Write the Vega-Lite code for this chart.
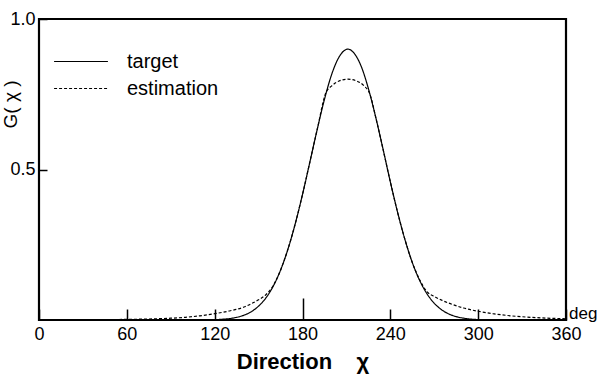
{
  "$schema": "https://vega.github.io/schema/vega-lite/v6.json",
  "width": 527,
  "height": 301,
  "autosize": {"type": "none"},
  "padding": {"left": 39, "top": 19, "right": 33, "bottom": 57},
  "background": "white",
  "config": {
    "view": {"stroke": "black", "strokeWidth": 2.2},
    "font": "Liberation Sans"
  },
  "datasets": {
    "curves": [
      {"direction": 0, "G": 0, "series": "target"},
      {"direction": 30, "G": 0, "series": "target"},
      {"direction": 60, "G": 0, "series": "target"},
      {"direction": 90, "G": 0, "series": "target"},
      {"direction": 100, "G": 0.0001, "series": "target"},
      {"direction": 110, "G": 0.0003, "series": "target"},
      {"direction": 120, "G": 0.0012, "series": "target"},
      {"direction": 125, "G": 0.0024, "series": "target"},
      {"direction": 130, "G": 0.0047, "series": "target"},
      {"direction": 135, "G": 0.0089, "series": "target"},
      {"direction": 140, "G": 0.016, "series": "target"},
      {"direction": 145, "G": 0.0276, "series": "target"},
      {"direction": 150, "G": 0.0459, "series": "target"},
      {"direction": 155, "G": 0.0732, "series": "target"},
      {"direction": 160, "G": 0.1123, "series": "target"},
      {"direction": 165, "G": 0.1656, "series": "target"},
      {"direction": 170, "G": 0.2345, "series": "target"},
      {"direction": 175, "G": 0.319, "series": "target"},
      {"direction": 180, "G": 0.417, "series": "target"},
      {"direction": 185, "G": 0.524, "series": "target"},
      {"direction": 190, "G": 0.632, "series": "target"},
      {"direction": 195, "G": 0.733, "series": "target"},
      {"direction": 200, "G": 0.817, "series": "target"},
      {"direction": 205, "G": 0.874, "series": "target"},
      {"direction": 208, "G": 0.893, "series": "target"},
      {"direction": 211, "G": 0.9, "series": "target"},
      {"direction": 214, "G": 0.893, "series": "target"},
      {"direction": 217, "G": 0.874, "series": "target"},
      {"direction": 220, "G": 0.844, "series": "target"},
      {"direction": 225, "G": 0.769, "series": "target"},
      {"direction": 230, "G": 0.674, "series": "target"},
      {"direction": 235, "G": 0.568, "series": "target"},
      {"direction": 240, "G": 0.459, "series": "target"},
      {"direction": 245, "G": 0.357, "series": "target"},
      {"direction": 250, "G": 0.267, "series": "target"},
      {"direction": 255, "G": 0.191, "series": "target"},
      {"direction": 260, "G": 0.1318, "series": "target"},
      {"direction": 265, "G": 0.0873, "series": "target"},
      {"direction": 270, "G": 0.0556, "series": "target"},
      {"direction": 275, "G": 0.034, "series": "target"},
      {"direction": 280, "G": 0.02, "series": "target"},
      {"direction": 285, "G": 0.0113, "series": "target"},
      {"direction": 290, "G": 0.0061, "series": "target"},
      {"direction": 295, "G": 0.0031, "series": "target"},
      {"direction": 300, "G": 0.0015, "series": "target"},
      {"direction": 310, "G": 0.0004, "series": "target"},
      {"direction": 320, "G": 0.0001, "series": "target"},
      {"direction": 330, "G": 0, "series": "target"},
      {"direction": 360, "G": 0, "series": "target"},
      {"direction": 0, "G": 0.0005, "series": "estimation"},
      {"direction": 30, "G": 0.001, "series": "estimation"},
      {"direction": 60, "G": 0.002, "series": "estimation"},
      {"direction": 80, "G": 0.004, "series": "estimation"},
      {"direction": 90, "G": 0.006, "series": "estimation"},
      {"direction": 100, "G": 0.009, "series": "estimation"},
      {"direction": 110, "G": 0.014, "series": "estimation"},
      {"direction": 120, "G": 0.021, "series": "estimation"},
      {"direction": 130, "G": 0.03, "series": "estimation"},
      {"direction": 140, "G": 0.043, "series": "estimation"},
      {"direction": 145, "G": 0.054, "series": "estimation"},
      {"direction": 150, "G": 0.067, "series": "estimation"},
      {"direction": 155, "G": 0.084, "series": "estimation"},
      {"direction": 160, "G": 0.114, "series": "estimation"},
      {"direction": 165, "G": 0.1656, "series": "estimation"},
      {"direction": 170, "G": 0.2345, "series": "estimation"},
      {"direction": 175, "G": 0.319, "series": "estimation"},
      {"direction": 180, "G": 0.417, "series": "estimation"},
      {"direction": 185, "G": 0.524, "series": "estimation"},
      {"direction": 190, "G": 0.632, "series": "estimation"},
      {"direction": 196, "G": 0.755, "series": "estimation"},
      {"direction": 200, "G": 0.778, "series": "estimation"},
      {"direction": 205, "G": 0.794, "series": "estimation"},
      {"direction": 211, "G": 0.8, "series": "estimation"},
      {"direction": 217, "G": 0.794, "series": "estimation"},
      {"direction": 222, "G": 0.778, "series": "estimation"},
      {"direction": 226, "G": 0.751, "series": "estimation"},
      {"direction": 230, "G": 0.674, "series": "estimation"},
      {"direction": 235, "G": 0.568, "series": "estimation"},
      {"direction": 240, "G": 0.459, "series": "estimation"},
      {"direction": 245, "G": 0.357, "series": "estimation"},
      {"direction": 250, "G": 0.267, "series": "estimation"},
      {"direction": 255, "G": 0.191, "series": "estimation"},
      {"direction": 260, "G": 0.134, "series": "estimation"},
      {"direction": 265, "G": 0.094, "series": "estimation"},
      {"direction": 270, "G": 0.078, "series": "estimation"},
      {"direction": 275, "G": 0.066, "series": "estimation"},
      {"direction": 280, "G": 0.056, "series": "estimation"},
      {"direction": 290, "G": 0.04, "series": "estimation"},
      {"direction": 300, "G": 0.029, "series": "estimation"},
      {"direction": 310, "G": 0.021, "series": "estimation"},
      {"direction": 320, "G": 0.015, "series": "estimation"},
      {"direction": 330, "G": 0.0108, "series": "estimation"},
      {"direction": 340, "G": 0.0078, "series": "estimation"},
      {"direction": 350, "G": 0.0056, "series": "estimation"},
      {"direction": 360, "G": 0.004, "series": "estimation"}
    ],
    "unit": [{"direction": 360, "G": 0, "label": "deg"}]
  },
  "layer": [
    {
      "data": {"name": "curves"},
      "mark": {"type": "line", "color": "black", "strokeWidth": 1.2, "interpolate": "monotone"},
      "encoding": {
        "x": {
          "field": "direction",
          "type": "quantitative",
          "scale": {"domain": [0, 360], "nice": false, "zero": false},
          "axis": {
            "values": [0, 60, 120, 180, 240, 300, 360],
            "domain": false,
            "grid": false,
            "tickColor": "black",
            "tickWidth": 1.5,
            "tickSize": {"condition": {"test": "datum.value == 180", "value": -22}, "value": -11},
            "labelFontSize": 18,
            "labelColor": "black",
            "labelFlush": false,
            "labelPadding": {"condition": {"test": "datum.value == 180", "value": 27}, "value": 16},
            "title": "Direction\u00a0\u00a0\u00a0\u00a0χ",
            "titleFontSize": 22,
            "titleFontWeight": "bold",
            "titleColor": "black",
            "titlePadding": 8
          }
        },
        "y": {
          "field": "G",
          "type": "quantitative",
          "scale": {"domain": [0, 1], "nice": false},
          "axis": {
            "values": [0.5, 1],
            "format": ".1f",
            "domain": false,
            "grid": false,
            "tickColor": "black",
            "tickWidth": 1.5,
            "tickSize": -8,
            "labelFontSize": 18,
            "labelColor": "black",
            "labelPadding": 12,
            "title": "G(\u00a0χ\u00a0)",
            "titleFontSize": 19,
            "titleFontWeight": "normal",
            "titleColor": "black",
            "titleX": -19,
            "titleY": 85,
            "titleAlign": "center"
          }
        },
        "strokeDash": {
          "field": "series",
          "type": "nominal",
          "scale": {"domain": ["target", "estimation"], "range": [[1, 0], [3, 2]]},
          "legend": {
            "title": null,
            "orient": "none",
            "legendX": 14,
            "legendY": 29,
            "padding": 0,
            "symbolType": "stroke",
            "symbolSize": 2900,
            "symbolStrokeWidth": 1.2,
            "symbolStrokeColor": "black",
            "labelFontSize": 20,
            "labelColor": "black",
            "labelOffset": 18,
            "clipHeight": 27,
            "rowPadding": 0
          }
        }
      }
    },
    {
      "data": {"name": "unit"},
      "mark": {"type": "text", "align": "left", "baseline": "alphabetic", "dx": 3, "dy": -1, "fontSize": 17, "color": "black"},
      "encoding": {
        "x": {"field": "direction", "type": "quantitative"},
        "y": {"field": "G", "type": "quantitative"},
        "text": {"field": "label"}
      }
    }
  ]
}
